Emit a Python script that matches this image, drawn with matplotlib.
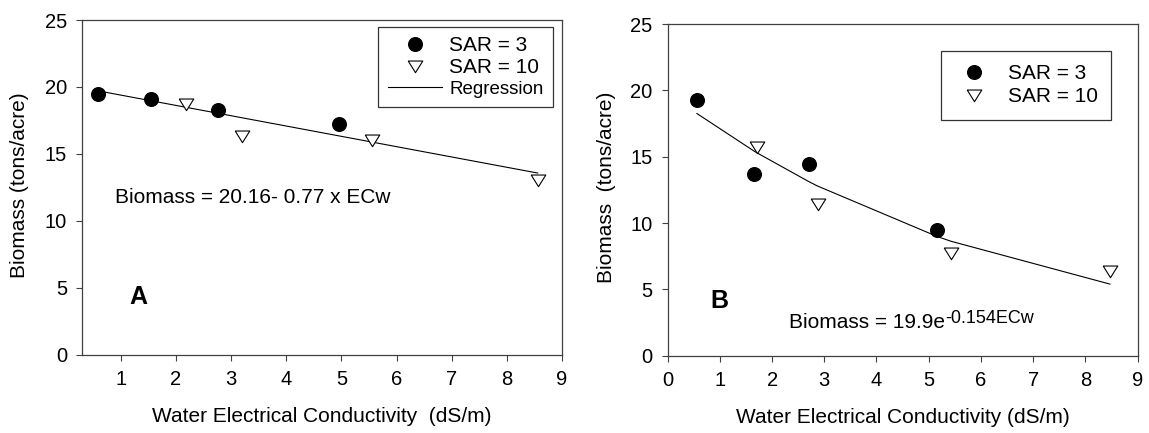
import numpy as np
import matplotlib.pyplot as plt

plt.rcParams['font.family'] = ['Liberation Sans', 'DejaVu Sans']

# panel A data
a_ec_sar3 = [0.58, 1.55, 2.76, 4.96]
a_bio_sar3 = [19.5, 19.1, 18.25, 17.2]
a_ec_sar10 = [2.18, 3.19, 5.56, 8.56]
a_bio_sar10 = [18.7, 16.3, 16.0, 13.05]

# panel B data
b_ec_sar3 = [0.56, 1.65, 2.70, 5.16]
b_bio_sar3 = [19.3, 13.7, 14.45, 9.45]
b_ec_sar10 = [1.71, 2.87, 5.43, 8.47]
b_bio_sar10 = [15.7, 11.45, 7.75, 6.35]

# fitted models printed on the chart
a_intercept, a_slope = 20.16, -0.77
b_coef, b_rate = 19.9, -0.154

y_ticks = [0, 5, 10, 15, 20, 25]

# slightly wide open triangle, like the original
tri = [(-1, 0.75), (1, 0.75), (0, -0.85), (-1, 0.75)]
spine_col = '#404040'


def style_axes(ax, xticks, xlim, xlabel, ylabel):
    ax.set_xlim(xlim)
    ax.set_ylim(0, 25)
    ax.set_xticks(xticks)
    ax.set_yticks(y_ticks)
    ax.tick_params(direction='out', length=4, width=0.8, labelsize=14.5, color=spine_col)
    ax.tick_params(axis='x', pad=7)
    ax.tick_params(axis='y', pad=7)
    ax.set_xlabel(xlabel, fontsize=15, va='center')
    ax.set_ylabel(ylabel, fontsize=15, va='center')
    ax.xaxis.set_label_coords(0.5, -0.186)
    ax.yaxis.set_label_coords(-0.13, 0.507)
    for s in ax.spines.values():
        s.set_linewidth(0.9)
        s.set_color(spine_col)


def scatter_pair(ax, x3, y3, x10, y10):
    ax.plot(x3, y3, 'o', color='black', markersize=9.8, label='SAR = 3', zorder=3)
    ax.plot(x10, y10, linestyle='none', marker=tri, markerfacecolor='white',
            markeredgecolor='black', markeredgewidth=0.8, markersize=10.5,
            label='SAR = 10', zorder=3)


fig = plt.figure(figsize=(11.49, 4.33), dpi=100)

# ---- panel A
ax1 = fig.add_axes([0.0716, 0.1808, 0.4175, 0.773])
scatter_pair(ax1, a_ec_sar3, a_bio_sar3, a_ec_sar10, a_bio_sar10)
ax_all = np.array(a_ec_sar3 + a_ec_sar10)
xs = np.array([ax_all.min(), ax_all.max()])
ax1.plot(xs, a_intercept + a_slope * xs, '-', color='black', linewidth=0.8, label='Regression')
ax1.text(0.89, 11.33, 'Biomass = 20.16- 0.77 x ECw', fontsize=15, va='baseline')
ax1.text(1.16, 4.33, 'A', fontsize=18, fontweight='bold', va='center')
style_axes(ax1, range(1, 10), (0.3, 9), 'Water Electrical Conductivity  (dS/m)',
           'Biomass (tons/acre)')
leg1 = ax1.legend(loc='upper right', bbox_to_anchor=(0.981, 0.979), fontsize=15,
                  frameon=True, fancybox=False, edgecolor='black', handlelength=2.6,
                  handletextpad=0.35, borderpad=0.45, labelspacing=0.12,
                  borderaxespad=0)
leg1.get_texts()[2].set_fontsize(13.5)
leg1.get_frame().set_linewidth(0.9)

# ---- panel B
ax2 = fig.add_axes([0.5811, 0.1785, 0.4089, 0.766])
scatter_pair(ax2, b_ec_sar3, b_bio_sar3, b_ec_sar10, b_bio_sar10)
bx = np.array(sorted(b_ec_sar3 + b_ec_sar10))
ax2.plot(bx, b_coef * np.exp(b_rate * bx), '-', color='black', linewidth=0.8)
eq = ax2.text(2.33, 2.1, 'Biomass = 19.9e', fontsize=15, va='baseline')
ax2.annotate('-0.154ECw', xy=(1, 1), xycoords=eq, xytext=(0.3, 2), textcoords='offset points',
             fontsize=13, va='top', ha='left')
ax2.text(0.82, 4.14, 'B', fontsize=18, fontweight='bold', va='center')
style_axes(ax2, range(0, 10), (0, 9), 'Water Electrical Conductivity (dS/m)',
           'Biomass  (tons/acre)')
leg2 = ax2.legend(loc='upper right', bbox_to_anchor=(0.944, 0.92), fontsize=15,
                  frameon=True, fancybox=False, edgecolor='black', handlelength=1.9,
                  handletextpad=0.65, borderpad=0.65, labelspacing=0.2,
                  borderaxespad=0)
leg2.get_frame().set_linewidth(0.9)

fig.savefig('out.png', dpi=100)
